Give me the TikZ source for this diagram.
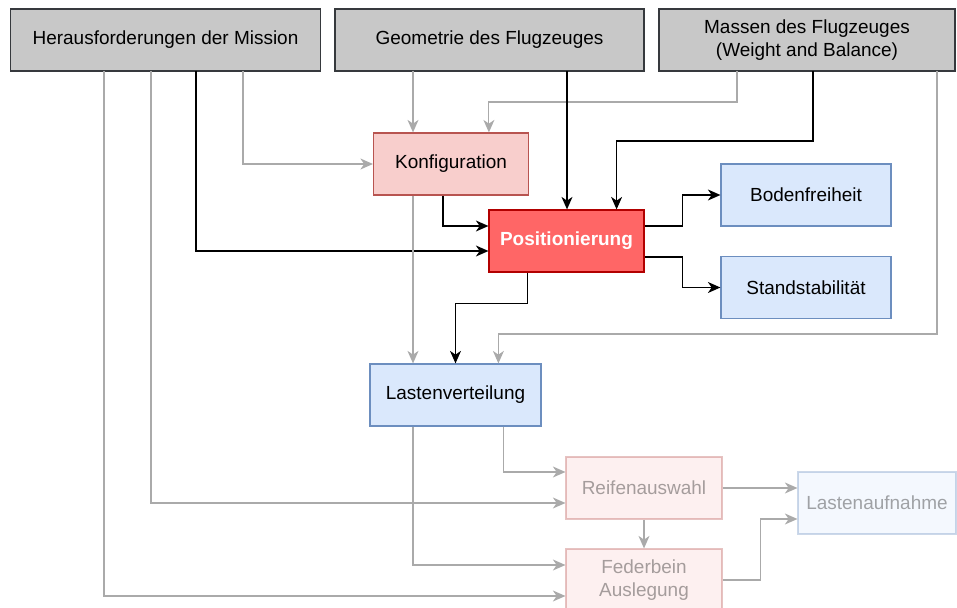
\documentclass[tikz,border=0pt]{standalone}
\usepackage{fontspec}
\setmainfont{Liberation Sans}
\usetikzlibrary{calc,arrows.meta}
\definecolor{boxg}{RGB}{200,200,200}
\definecolor{edgeg}{RGB}{54,57,61}
\definecolor{konfc}{RGB}{248,206,204}
\definecolor{konfd}{RGB}{184,84,80}
\definecolor{posc}{RGB}{255,102,102}
\definecolor{posd}{RGB}{178,0,0}
\definecolor{bluec}{RGB}{218,232,252}
\definecolor{blued}{RGB}{108,142,191}
\definecolor{lineg}{RGB}{170,170,170}
\tikzset{
  blk/.style={rectangle,line width=0.7pt,minimum height=1.24cm,inner sep=2pt,align=center,
    font=\fontsize{10.8}{13}\selectfont},
  src/.style={blk,fill=boxg,draw=edgeg},
  res/.style={blk,fill=bluec,draw=blued},
  % later design steps, drawn faded
  faded/.style={fill opacity=0.3,draw opacity=0.35,text opacity=0.35},
  gl/.style={-{Stealth[length=2.5mm,width=2.2mm,inset=0.75mm]},line width=0.6pt,lineg},
  bl/.style={-{Stealth[length=2.5mm,width=2.2mm,inset=0.75mm]},line width=0.8pt,black},
}
\begin{document}
\begin{tikzpicture}[x=0.02cm,y=-0.02cm,
  konfbox/.style={blk,fill=konfc,draw=konfd},
  posbox/.style={blk,fill=posc,draw=posd,text=white,font=\fontsize{10.8}{13}\selectfont\bfseries}]
  \useasboundingbox (0,0) rectangle (957,608);
  % ---- inputs ----
  \node[src,minimum width=6.2cm] (mis) at (165.5,40) {Herausforderungen der Mission};
  \node[src,minimum width=6.18cm] (geo) at (489.5,40) {Geometrie des Flugzeuges};
  \node[src,minimum width=5.92cm] (mas) at (807,40) {Massen des Flugzeuges\\(Weight and Balance)};
  \coordinate (m1) at (104,71);
  \coordinate (m2) at (151,71);
  \coordinate (m3) at (196,71);
  \coordinate (m4) at (243,71);
  \coordinate (g1) at (413,71);
  \coordinate (g2) at (567,71);
  \coordinate (w1) at (737,71);
  \coordinate (w2) at (813,71);
  \coordinate (w3) at (937,71);
  % ---- design steps ----
  \node[konfbox,minimum width=3.1cm] (konf) at (451,164) {Konfiguration};
  \node[posbox,minimum width=3.1cm] (pos) at (566.5,241) {Positionierung};
  \node[res,minimum width=3.4cm] (boden) at (806,195) {Bodenfreiheit};
  \node[res,minimum width=3.4cm] (stand) at (806,287.5) {Standstabilität};
  \node[res,minimum width=3.42cm] (last) at (455.5,395) {Lastenverteilung};
  \node[konfbox,faded,minimum width=3.12cm] (reif) at (644,488) {Reifenauswahl};
  \node[konfbox,faded,minimum width=3.12cm] (feder) at (644,580) {Federbein\\Auslegung};
  \node[res,faded,minimum width=3.16cm] (aufn) at (877,503) {Lastenaufnahme};
  \coordinate (k1) at (konf.south -| g1);
  % ---- into Konfiguration ----
  \draw[gl] (m4) |- (konf.west);
  \draw[gl] (g1) -- (g1 |- konf.north);
  \draw[gl] (w1) -- ++(0,31) -| ($(konf.north west)+(116,0)$);
  % ---- into Positionierung ----
  \draw[bl] (g2) -- (g2 |- pos.north);
  \draw[bl] (w2) -- ++(0,70) -| ($(pos.north east)+(-28,0)$);
  \draw[bl] (m3) |- ($(pos.west)+(0,10)$);
  \draw[bl] ($(konf.south west)+(70,0)$) |- ($(pos.west)+(0,-15)$);
  \draw[bl] ($(pos.east)+(0,-15)$) -- ++(38,0) |- (boden.west);
  \draw[bl] ($(pos.east)+(0,16)$) -- ++(38,0) |- (stand.west);
  % ---- into Lastenverteilung ----
  \draw[bl] ($(pos.south west)+(39,0)$) -- ++(0,31) -| (last.north);
  \draw[gl] (k1) -- (k1 |- last.north);
  \draw[gl] (w3) -- ++(0,263) -| ($(last.north west)+(129,0)$);
  % ---- faded part ----
  \draw[gl] ($(last.south west)+(134.5,0)$) |- ($(reif.west)+(0,-16)$);
  \draw[gl] (m2) |- ($(reif.west)+(0,15)$);
  \draw[gl] (reif) -- (feder);
  \draw[gl] (last.south -| g1) |- ($(feder.west)+(0,-15)$);
  \draw[gl] (m1) |- ($(feder.west)+(0,16)$);
  \draw[gl] (reif.east) -- (reif.east -| aufn.west);
  \draw[gl] (feder.east) -- ++(38,0) |- ($(aufn.west)+(0,16)$);
\end{tikzpicture}
\end{document}
